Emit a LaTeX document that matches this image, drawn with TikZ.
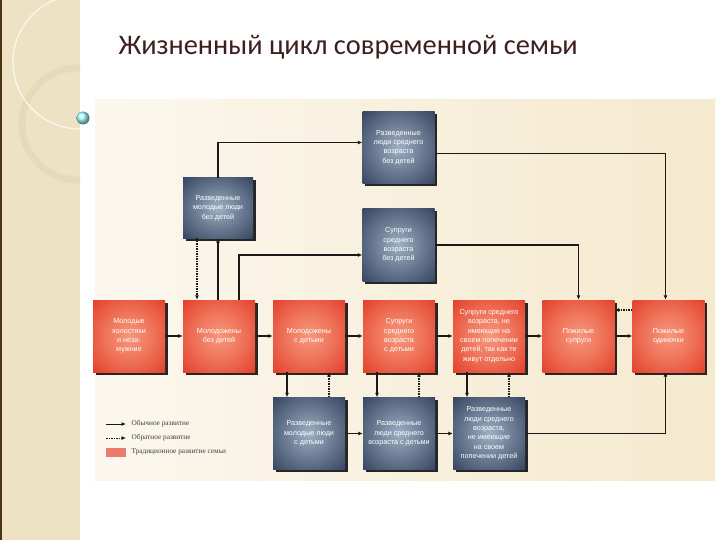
\documentclass[tikz,border=0pt]{standalone}
\usepackage{fontspec}
\setmainfont{Liberation Serif}
\setsansfont{Liberation Sans}
\newfontfamily\titlefont{Carlito}
\usetikzlibrary{arrows.meta,shadows}

\definecolor{panel}{RGB}{238,226,196}
\definecolor{ring}{RGB}{230,218,188}
\definecolor{sheet}{RGB}{245,233,206}
\definecolor{redin}{RGB}{246,152,124}
\definecolor{redout}{RGB}{226,52,32}
\definecolor{bluein}{RGB}{158,176,196}
\definecolor{blueout}{RGB}{36,52,80}
\definecolor{titlecol}{RGB}{62,30,30}

\pgfdeclareradialshading{redglow}{\pgfpoint{0bp}{0bp}}{color(0bp)=(redin); color(16bp)=(redin!65!redout); color(40bp)=(redout); color(100bp)=(redout)}
\pgfdeclareradialshading{blueglow}{\pgfpoint{0bp}{0bp}}{color(0bp)=(bluein); color(16bp)=(bluein!60!blueout); color(42bp)=(blueout); color(100bp)=(blueout)}

\begin{document}
\begin{tikzpicture}[x=1pt,y=-1pt,
    stage/.style={rectangle, shade, minimum width=72pt, minimum height=72pt,
      inner sep=1pt, align=center, text=white,
      font=\sffamily\fontsize{7.2}{9.4}\selectfont,
      drop shadow={shadow xshift=2.5pt, shadow yshift=-2.5pt, fill=black!85, opacity=1}},
    trad/.style={stage, shading=redglow},
    split/.style={stage, shading=blueglow},
    go/.style={-{Latex[length=4.5pt,width=4pt]}, line width=1.2pt, black!90},
    back/.style={go, dash pattern=on 1.5pt off 1pt},
    key/.style={anchor=west, text=black!75, font=\rmfamily\fontsize{7.3}{8}\selectfont}]
  \useasboundingbox (0,0) rectangle (720,540);
  % slide
  \fill[white] (0,0) rectangle (720,540);
  \fill[panel] (0,0) rectangle (80,540);
  \begin{scope}
    \clip (0,0) rectangle (80,540);
    \draw[ring, line width=7pt] (78,124) circle (56);
    \draw[white!75!panel, line width=1.2pt] (80,62) circle (67);
  \end{scope}
  \draw[black!60!brown, line width=1.5pt] (0.75,0) -- (0.75,540);
  \shade[ball color=cyan!35] (83,118) circle (6.5);
  \node[anchor=west, text=titlecol, font=\titlefont\fontsize{28.4}{32}\selectfont] (title) at (115,47) {Жизненный цикл современной семьи};
  \shade[left color=sheet!35!white, right color=sheet] (95,100) rectangle (715,480);

  % top row
  \node[split] (b1) at (398.5,147.5) {Разведенные\\люди среднего\\возраста\\без детей};
  \node[split, minimum width=70pt, minimum height=60pt] (b0) at (218,208) {Разведенные\\молодые люди\\без детей};
  \node[split] (b2) at (398.5,245) {Супруги\\среднего\\возраста\\без детей};
  % traditional stages
  \node[trad] (r1) at (129,336) {Молодые\\холостяки\\и неза-\\мужние};
  \node[trad] (r2) at (219,336) {Молодожены\\без детей};
  \node[trad] (r3) at (309,336) {Молодожены\\с детьми};
  \node[trad] (r4) at (399,336) {Супруги\\среднего\\возраста\\с детьми};
  \node[trad] (r5) at (489,336) {Супруги среднего\\возраста, не\\имеющие на\\своем попечении\\детей, так как те\\живут отдельно};
  \node[trad] (r6) at (578.5,336) {Пожилые\\супруги};
  \node[trad] (r7) at (668.5,336) {Пожилые\\одиночки};
  % divorced
  \node[split] (d1) at (309,433.5) {Разведенные\\молодые люди\\с детьми};
  \node[split] (d2) at (399,433.5) {Разведенные\\люди среднего\\возраста с детьми};
  \node[split] (d3) at (489,433.5) {Разведенные\\люди среднего\\возраста,\\не имеющие\\на своем\\попечении детей};

  \foreach \a/\b in {r1/r2,r2/r3,r3/r4,r4/r5,r5/r6,r6/r7,d1/d2,d2/d3}
    \draw[go] (\a) -- (\b);
  \foreach \r/\d in {r3/d1,r4/d2,r5/d3} {
    \draw[go] ([xshift=-22pt]\r.south) -- ([xshift=-22pt]\d.north);
    \draw[back] ([xshift=20pt]\d.north) -- ([xshift=20pt]\r.south);
  }
  \draw[back] ([yshift=26pt]r7.west) -- ([yshift=26pt]r6.east);
  \draw[back] ([xshift=-21pt]b0.south) -- ([xshift=-22pt]r2.north);
  \draw[go] (r2.north -| b0) -- (b0.south);
  \draw[go] (b0.north) |- ([yshift=5pt]b1.west);
  \draw[go] ([xshift=20pt]r2.north) |- ([yshift=-10pt]b2.west);
  \draw[go] (b2.east) -| (r6.north);
  \draw[go] ([yshift=-6pt]b1.east) -| ([xshift=-3pt]r7.north);
  \draw[go] (d3.east) -| ([xshift=-3pt]r7.south);

  % legend
  \coordinate (g1) at (106,424);
  \coordinate (g2) at (126,424);
  \coordinate (g3) at (106,438);
  \coordinate (g4) at (126,438);
  \draw[go, line width=0.8pt] (g1) -- (g2);
  \draw[back, line width=0.8pt] (g3) -- (g4);
  \node[key] (k1) at (128,424) {Обычное развитие};
  \node[key] (k2) at (128,438) {Обратное развитие};
  \node[fill=redout!65!white, minimum width=20pt, minimum height=9pt, inner sep=0pt] (k3box) at (116,452) {};
  \node[key] (k3) at (128,452) {Традиционное развитие семьи};
\end{tikzpicture}
\end{document}
